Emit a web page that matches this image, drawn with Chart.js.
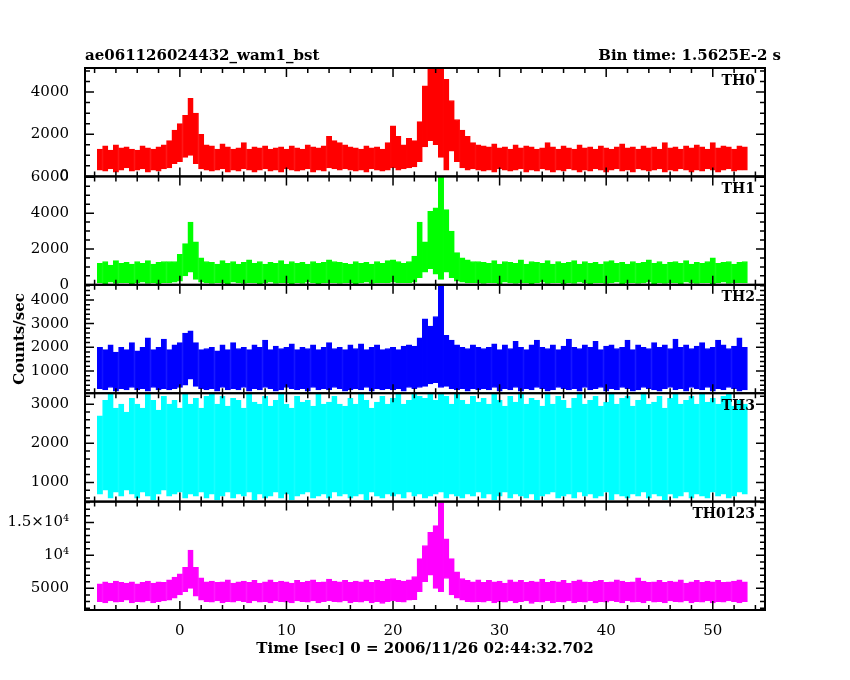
<!DOCTYPE html>
<html>
<head>
<meta charset="utf-8">
<script src="https://cdn.jsdelivr.net/npm/chart.js@4/dist/chart.umd.min.js"></script>
<style>
  body { margin: 0; background: #fff; }
  #wrap { width: 850px; height: 680px; }
</style>
</head>
<body>
<div id="wrap"><canvas id="lc"></canvas></div>
<script>
// light curve bins: 0.5 s bins, first bin centre at -7.5 s
const binStart = -7.5;
const binWidth = 0.5;
const panelNames = ['TH0', 'TH1', 'TH2', 'TH3', 'TH0123'];
const panelColors = ['#ff0000', '#00ff00', '#0000ff', '#00ffff', '#ff00ff'];
const yRanges = [[0, 5140], [0, 6050], [60, 4640], [510, 3280], [1720, 18150]];
const yTickValues = [[0, 2000, 4000], [0, 2000, 4000, 6000], [1000, 2000, 3000, 4000], [1000, 2000, 3000], [5000, 10000, 15000]];
const yTickLabels = [['0', '2000', '4000'], ['0', '2000', '4000', '6000'], ['1000', '2000', '3000', '4000'], ['1000', '2000', '3000'], ['5000', '10⁴', '1.5×10⁴']];
const yMinorStep = [500, 500, 200, 200, 1000];
const xTicks = [0, 10, 20, 30, 40, 50];

// band top / bottom per bin (counts/sec)
const th0Hi = [1300,1450,1250,1500,1350,1400,1300,1250,1450,1350,1300,1400,1500,
  1700,2200,2500,2900,3700,3000,2000,1500,
  1450,1300,1550,1400,1300,1350,1600,1300,1400,1350,1450,1300,1350,1400,1300,1450,1350,1300,1500,1400,1350,1450,
  1900,1700,1600,1500,1400,
  1350,1300,1450,1350,1400,1300,1600,
  2400,1900,1500,1800,1700,2600,4300,5100,5100,5100,4600,3600,2700,2200,1900,1600,1500,
  1450,1400,1550,1350,1400,1300,1500,1350,1450,1400,1300,1350,1600,1400,1300,1450,1350,1300,1500,1350,
  1400,1300,1450,1350,1300,1400,1550,1350,1400,1300,1450,1350,1400,1300,1600,1350,1400,1300,1450,1350,
  1500,1400,1300,1600,1350,1450,1400,1300,1450,1400];
const th0Lo = [300,250,350,200,300,400,250,300,350,200,300,250,350,
  400,600,700,900,1000,600,350,300,
  250,300,350,200,300,250,350,300,200,300,350,250,300,200,350,300,250,300,350,200,300,250,
  400,350,300,350,300,
  250,300,200,350,300,250,300,
  400,300,350,400,450,700,1400,1700,1500,900,300,1200,700,400,300,350,300,
  250,300,200,350,300,250,300,350,200,300,250,350,300,200,300,250,350,300,200,300,
  250,350,300,200,300,350,250,300,200,350,300,250,300,350,200,300,250,350,300,200,
  300,250,350,300,200,300,350,250,300,300];

const th1Hi = [1200,1300,1100,1350,1200,1250,1150,1300,1200,1350,1150,1250,1300,
  1300,1300,1700,2300,3500,2400,1500,1300,
  1250,1150,1350,1200,1300,1150,1250,1400,1200,1300,1150,1250,1200,1350,1150,1300,1200,1250,1150,1300,1200,1250,
  1400,1300,1250,1200,1150,
  1300,1200,1250,1150,1300,1200,1350,
  1400,1300,1200,1300,1600,3500,2400,4100,4300,6000,4200,3000,1800,1500,1400,1300,1300,
  1250,1200,1350,1150,1300,1250,1200,1400,1150,1300,1250,1200,1350,1150,1300,1200,1250,1350,1150,1300,
  1200,1250,1150,1300,1350,1200,1250,1150,1300,1200,1250,1400,1200,1300,1150,1250,1300,1200,1350,1150,
  1250,1200,1300,1500,1200,1250,1300,1150,1250,1300];
const th1Lo = [100,50,150,80,100,120,60,100,150,80,100,50,120,
  100,150,200,500,700,300,150,100,
  80,120,100,60,150,100,80,120,100,60,100,150,80,100,120,60,100,80,150,100,60,100,
  120,100,80,100,120,
  60,100,150,80,100,120,100,
  150,100,120,100,150,400,700,900,600,300,700,400,200,150,100,120,100,
  80,120,100,60,150,100,80,120,100,60,100,150,80,100,120,60,100,80,150,100,
  60,100,120,80,100,150,60,100,120,80,100,150,60,100,80,120,100,60,150,100,
  80,100,120,60,100,150,80,100,120,100];

const th2Hi = [2000,1900,2100,1800,2000,1900,2200,1850,2000,2400,1900,2000,2350,
  1900,2100,2200,2600,2700,2200,1900,1950,
  2000,1850,2100,1900,2200,1950,2000,1900,2100,2000,2300,1900,2050,1950,2000,2150,1900,2000,1950,2100,1900,2000,
  2200,1950,2000,1900,2100,
  1950,2150,1900,2000,2100,1900,1950,
  2000,1900,2050,2100,2050,2400,3200,2900,3300,4600,2500,2300,2100,2000,1950,2100,2000,
  1950,2000,2150,1900,2100,1950,2250,2000,1900,2100,2300,2000,1950,2100,1900,2050,2350,2000,1950,2100,
  2000,2250,1900,2050,2100,1950,2000,2300,1900,2100,2000,1950,2200,2000,2100,1950,2350,2000,2100,1950,
  2050,2200,1950,2000,2300,2100,1950,2050,2400,2000];
const th2Lo = [250,200,300,150,250,200,300,200,250,150,300,200,250,
  200,250,300,400,650,350,250,200,
  250,150,300,200,250,200,300,150,250,200,300,250,150,200,300,250,200,250,150,300,200,250,
  200,300,250,150,200,
  250,200,300,150,250,200,250,
  200,250,150,300,250,300,350,450,500,300,350,250,200,250,150,250,200,
  250,200,300,150,250,200,300,150,250,200,300,250,150,200,300,250,200,250,150,300,
  200,250,300,150,250,200,300,250,150,200,300,250,200,150,250,300,200,250,150,300,
  250,200,300,150,250,200,300,250,150,200];

const th3Hi = [2700,3100,3250,2900,3000,2800,3150,3000,2900,3250,3100,2850,3200,
  3000,3100,2900,3250,3000,3150,2900,3200,
  3250,3000,3200,2950,3150,3100,2900,3250,3050,3000,3200,2950,3100,3250,3000,2900,3200,3050,3100,2950,3250,3000,
  3050,3200,3000,2950,3150,
  3000,3250,3100,2900,3050,3200,3000,
  3150,3250,3000,3100,3250,3200,3150,3250,3100,3250,3200,3000,3250,3100,3000,3200,3050,
  3150,3000,3250,3100,2950,3200,3050,3250,3000,3150,3100,2950,3250,3000,3200,3100,2900,3150,3250,3000,
  3100,3200,2950,3050,3250,3000,3150,3200,2950,3100,3250,3000,3050,3200,2900,3150,3250,3000,3100,3200,
  3000,3250,3050,3150,3000,3200,3250,2950,3100,3000];
const th3Lo = [700,800,600,750,650,800,700,600,750,650,550,700,800,
  650,700,750,600,700,650,750,600,
  700,550,650,750,600,700,650,750,550,700,600,650,750,600,700,550,650,700,750,600,650,700,
  600,750,650,700,600,
  650,700,550,750,650,600,700,
  650,700,600,750,650,700,600,650,700,750,600,700,650,600,700,650,750,
  600,700,550,650,750,600,700,650,600,700,550,650,700,750,600,650,700,600,750,650,
  700,600,650,750,550,700,650,600,700,650,750,600,700,650,550,700,600,650,750,600,
  700,650,600,750,650,700,600,650,750,700];

const th0123Hi = [5700,6000,5800,6100,5900,5800,6000,5700,5900,6100,5800,6000,5900,
  6300,6700,7200,8200,10800,8200,6600,6000,
  6100,5900,6000,6300,5800,6000,6100,5900,6200,5800,6000,6300,5900,6100,6000,5800,6200,5900,6100,6300,5900,6000,
  6400,6100,6000,6200,5900,
  6100,6000,6300,5900,6200,6100,6400,
  6500,6200,6100,6300,6800,9500,11500,13500,14500,18000,12500,9500,7500,6500,6200,6000,6300,
  5900,6200,6000,6100,5800,6300,6000,6200,5900,6100,6000,6400,5900,6100,6000,6200,5800,6100,6300,6000,
  5900,6100,6200,5900,6000,6300,6100,5900,6000,6600,6100,5900,6000,6200,5900,6100,6000,6300,5800,6000,
  6200,5900,6100,6000,6200,5900,6000,6100,6300,6000];
const th0123Lo = [3000,2800,3100,2900,3000,3200,2800,3000,2900,3100,2800,3000,3100,
  3200,3500,4000,4500,5000,3800,3200,3000,
  2900,3100,2800,3000,2900,3100,3000,2800,3100,2900,3000,2800,3100,3000,2900,2800,3100,3000,2900,3100,2800,3000,
  3100,3000,2900,3100,2800,
  3000,2900,3100,2800,3000,2700,3000,
  3100,3000,2900,3200,3300,4500,6000,7000,5000,4500,6500,4000,3500,3200,3000,2900,3000,
  2900,3100,2800,3000,2900,3100,2800,3000,3100,2700,3000,2900,3100,2800,3000,2900,3100,2800,3000,2900,
  3100,2800,3000,2900,3100,3000,2800,3100,2900,3000,2800,3100,2900,3000,2800,3100,3000,2900,3100,2800,
  3000,2900,3100,2800,3000,2900,3100,3000,2800,3000];

const bandHi = [th0Hi, th1Hi, th2Hi, th3Hi, th0123Hi];
const bandLo = [th0Lo, th1Lo, th2Lo, th3Lo, th0123Lo];

const font = 'DejaVu Serif';

// build datasets (floating bars, one per bin)
const datasets = panelNames.map((name, p) => ({
  label: name,
  yAxisID: 'y' + p,
  backgroundColor: panelColors[p],
  borderColor: panelColors[p],
  borderWidth: 1,
  borderSkipped: false,
  barPercentage: 1.0,
  categoryPercentage: 1.0,
  grouped: false,
  data: bandHi[p].map((hi, i) => ({ x: binStart + i * binWidth, y: [bandLo[p][i], hi] }))
}));

const scales = {
  x: {
    type: 'linear', min: -8.9, max: 54.9, offset: false,
    grid: { display: false }, border: { display: false },
    afterBuildTicks: s => { s.ticks = xTicks.map(v => ({ value: v })); },
    ticks: { color: '#000', font: { family: font, size: 15 }, padding: 4, autoSkip: false, maxRotation: 0 },
    title: { display: true, text: 'Time [sec] 0 = 2006/11/26 02:44:32.702', color: '#000', font: { family: font, size: 15, weight: 'bold' }, padding: 0 },
    afterFit: s => { s.height = 48; }
  }
};
// the stack puts the first listed axis at the bottom, so list TH0123 first
for (let p = panelNames.length - 1; p >= 0; p--) {
  scales['y' + p] = {
    type: 'linear', position: 'left', stack: 'lc', stackWeight: 1,
    min: yRanges[p][0], max: yRanges[p][1],
    grid: { display: false }, border: { display: false },
    afterBuildTicks: s => { s.ticks = yTickValues[p].map(v => ({ value: v })); },
    ticks: {
      color: '#000', font: { family: font, size: 15 }, padding: 8, autoSkip: false,
      callback: (v) => yTickLabels[p][yTickValues[p].indexOf(v)]
    },
    afterFit: s => { s.width = 85; }
  };
}

// frames, inward ticks and labels drawn like the original plot
const framePlugin = {
  id: 'frames',
  afterDraw(chart) {
    const ctx = chart.ctx;
    const xs = chart.scales.x;
    const left = chart.chartArea.left, right = chart.chartArea.right;
    ctx.save();
    ctx.strokeStyle = '#000';
    panelNames.forEach((name, p) => {
      const ys = chart.scales['y' + p];
      const top = ys.top, bot = ys.bottom;
      ctx.lineWidth = 2;
      ctx.strokeRect(left, top, right - left, bot - top);
      ctx.lineWidth = 1.5;
      ctx.beginPath();
      // y ticks
      for (let v = Math.ceil(ys.min / yMinorStep[p]) * yMinorStep[p]; v <= ys.max; v += yMinorStep[p]) {
        const y = ys.getPixelForValue(v);
        const len = yTickValues[p].includes(v) ? 9 : 5;
        ctx.moveTo(left, y); ctx.lineTo(left + len, y);
        ctx.moveTo(right, y); ctx.lineTo(right - len, y);
      }
      // x ticks
      for (let v = -8; v <= 54; v += 2) {
        const x = xs.getPixelForValue(v);
        const len = v % 10 === 0 ? 9 : 5;
        ctx.moveTo(x, top); ctx.lineTo(x, top + len);
        ctx.moveTo(x, bot); ctx.lineTo(x, bot - len);
      }
      ctx.stroke();
      ctx.fillStyle = '#000';
      ctx.font = 'bold 14px "' + font + '"';
      ctx.textAlign = 'right';
      ctx.textBaseline = 'top';
      ctx.fillText(name, right - 10, top + 6);
    });
    ctx.font = 'bold 15px "' + font + '"';
    ctx.textBaseline = 'bottom';
    ctx.textAlign = 'left';
    ctx.fillText('ae061126024432_wam1_bst', left, chart.chartArea.top - 4);
    ctx.textAlign = 'right';
    ctx.fillText('Bin time: 1.5625E-2 s', right + 16, chart.chartArea.top - 4);
    ctx.save();
    ctx.translate(20, (chart.chartArea.top + chart.chartArea.bottom) / 2);
    ctx.rotate(-Math.PI / 2);
    ctx.textAlign = 'center';
    ctx.textBaseline = 'middle';
    ctx.fillText('Counts/sec', 0, 0);
    ctx.restore();
    ctx.restore();
  }
};

new Chart(document.getElementById('lc'), {
  type: 'bar',
  data: { datasets },
  options: {
    responsive: true,
    maintainAspectRatio: false,
    animation: false,
    layout: { padding: { top: 68, right: 85, left: 0, bottom: 22 } },
    plugins: { legend: { display: false }, tooltip: { enabled: false } },
    scales
  },
  plugins: [framePlugin]
});
</script>
</body>
</html>
